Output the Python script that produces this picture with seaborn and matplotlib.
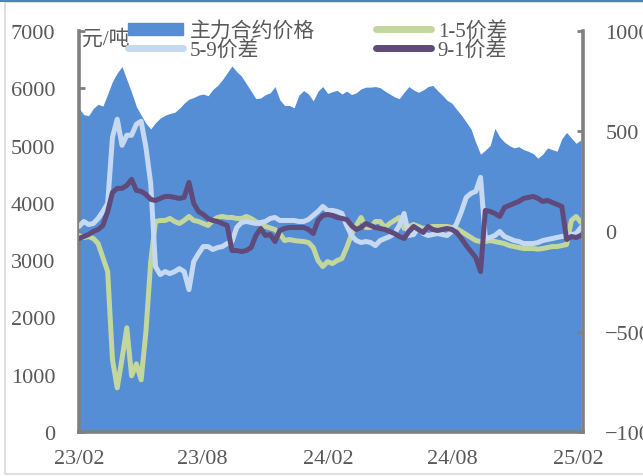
import numpy as np
import pandas as pd
import matplotlib
matplotlib.use("Agg")
import matplotlib.pyplot as plt
import matplotlib.dates as mdates
from matplotlib.patches import Rectangle, Patch
from matplotlib.lines import Line2D
import seaborn as sns

# weekly readings, 2023-02 .. 2025-02
DATES = pd.date_range("2023-02-01", periods=106, freq="7D")

PRICE = [5650, 5540, 5520, 5650, 5720, 5690, 5900, 6120, 6270, 6380,
         6150, 5930, 5680, 5530, 5390, 5290, 5400, 5480, 5530, 5560,
         5580, 5650, 5740, 5810, 5840, 5880, 5900, 5870, 5980, 6050,
         6150, 6270, 6390, 6290, 6210, 6080, 5950, 5820, 5830, 5890,
         5920, 6030, 5800, 5700, 5700, 5660, 5880, 5960, 5900, 5780,
         5950, 6030, 5910, 5940, 5965, 5900, 5950, 5890, 5920, 5990,
         6020, 6020, 6030, 6010, 5950, 5900, 5850, 5820, 5930, 6030,
         5970, 5930, 5970, 6030, 6050, 5960, 5880, 5790, 5740, 5630,
         5530, 5410, 5290, 5050, 4850, 4920, 5000, 5300, 5150, 5060,
         5000, 4960, 4980, 4930, 4900, 4860, 4780, 4850, 4960, 4930,
         4900, 5120, 5230, 5130, 5040, 5100]

SPREAD_1_5 = [-20, -30, -25, -35, -60, -130, -200, -640, -780, -635,
              -480, -720, -660, -740, -500, -150, 50, 55, 55, 65,
              50, 40, 55, 75, 55, 50, 40, 30, 55, 70,
              75, 70, 70, 65, 65, 75, 65, 50, 35, 25,
              18, 10, -10, -45, -40, -45, -48, -50, -55, -80,
              -145, -175, -150, -160, -145, -135, -80, -15, 30, 70,
              20, 20, 50, 50, 20, 40, 55, 70, 15, 25,
              35, 25, 15, 20, 25, 25, 25, 25, 20, 15,
              0, -15, -30, -45, -50, -50, -45, -50, -55, -60,
              -70, -75, -80, -85, -85, -85, -88, -85, -80, -75,
              -75, -70, -65, 55, 75, 45]

SPREAD_5_9 = [25, 50, 35, 40, 65, 100, 140, 470, 560, 430,
              480, 480, 535, 550, 420, 240, -175, -215, -200, -210,
              -200, -185, -200, -290, -150, -110, -75, -75, -90, -80,
              -75, -60, -50, 20, 45, 50, 45, 40, 45, 50,
              65, 70, 55, 55, 55, 55, 50, 50, 60, 80,
              100, 125, 105, 105, 100, 90, 30, -20, -45, -55,
              -50, -55, -70, -45, -35, -25, -10, 30, 90, -20,
              -15, 20, -10, -20, -15, -10, -15, -20, 0, 40,
              100, 170, 190, 200, 270, -35, -30, -20, 0, -25,
              -35, -45, -50, -60, -60, -60, -55, -45, -40, -35,
              -30, -25, -20, -15, -10, 20]

SPREAD_9_1 = [-35, -25, -15, 0, 10, 30, 100, 195, 215, 215,
              230, 260, 205, 200, 185, 160, 155, 165, 175, 175,
              170, 165, 170, 245, 140, 100, 85, 65, 55, 50,
              40, 30, -95, -95, -100, -95, -80, -20, 15, -20,
              -15, -50, 5, 15, 20, 20, 20, 20, 10, -10,
              55, 80, 85, 80, 70, 65, 60, 30, 10, 20,
              40, 30, 20, 15, 10, 0, -10, -25, -35, 0,
              25, 10, -5, 25, 10, 5, 10, 15, 10, -5,
              -35, -70, -100, -130, -200, 105, 100, 90, 75, 120,
              130, 140, 150, 165, 170, 175, 165, 150, 155, 145,
              135, 125, -40, -25, -30, -20]

TICK_DATES = ["2023-02-01", "2023-08-01", "2024-02-01", "2024-08-01", "2025-02-01"]

AREA_C = "#558ED5"
GREEN = "#C3D69B"
LBLUE = "#C6D9F1"
PURPLE = "#604A7B"
GREY = "#808080"
TXT = "#595959"

sns.set_theme(style="white")
plt.rcParams["font.family"] = ["Liberation Serif", "Noto Sans CJK SC"]

df = pd.DataFrame({"date": DATES, "price": PRICE, "1-5价差": SPREAD_1_5,
                   "5-9价差": SPREAD_5_9, "9-1价差": SPREAD_9_1})

fig = plt.figure(figsize=(6.43, 4.77), dpi=100)
ax = fig.add_axes([79 / 643, 1 - 433 / 477, 504 / 643, 401 / 477])
ax.fill_between(df["date"], df["price"], 0, color=AREA_C, lw=0)
ax.set_ylim(0, 7000)
ax.set_xlim(pd.Timestamp("2023-02-01"), pd.Timestamp("2025-02-08"))
ax.set_yticks(range(0, 7001, 1000))

ax2 = ax.twinx()
for col, c in [("1-5价差", GREEN), ("5-9价差", LBLUE), ("9-1价差", PURPLE)]:
    sns.lineplot(data=df, x="date", y=col, ax=ax2, color=c, lw=3.6,
                 legend=False)
ax2.set_ylim(-1000, 1000)
ax2.set_yticks([-1000, -500, 0, 500, 1000])
ax2.set_ylabel("")
ax.set_ylabel("")
ax.set_xlabel("")
ax2.set_xlabel("")

ax.set_xticks(pd.to_datetime(TICK_DATES))
ax.xaxis.set_major_formatter(mdates.DateFormatter("%y/%m"))

for a in (ax, ax2):
    a.grid(False)
    a.set_facecolor("none")
    for s in a.spines.values():
        s.set_visible(False)
ax.spines["left"].set_visible(True)
ax.spines["bottom"].set_visible(True)
ax2.spines["right"].set_visible(True)
for s in (ax.spines["left"], ax.spines["bottom"], ax2.spines["right"]):
    s.set_color(GREY)
    s.set_linewidth(2.6)

ax.tick_params(axis="y", direction="in", length=4, width=2, color=GREY,
               labelsize=16, labelcolor=TXT, pad=17, left=True)
ax.tick_params(axis="x", direction="in", length=4, width=2, color=GREY,
               labelsize=16, labelcolor=TXT, pad=12, bottom=True)
ax2.tick_params(axis="y", direction="in", length=4, width=2, color=GREY,
                labelsize=16, labelcolor=TXT, pad=16, right=True)

fig.text(82 / 643, 1 - 40 / 477, "元/吨", fontsize=15, color=TXT,
         va="center", ha="left")

handles = [Patch(color=AREA_C, label="主力合约价格"),
           Line2D([], [], color=LBLUE, lw=5, label="5-9价差"),
           Line2D([], [], color=GREEN, lw=5, label="1-5价差"),
           Line2D([], [], color=PURPLE, lw=5, label="9-1价差")]
leg = fig.legend(handles=handles, ncol=2, loc="upper left",
                 bbox_to_anchor=(128 / 643, 1 - 22 / 477), frameon=False,
                 fontsize=15, handlelength=2.65, handleheight=0.5,
                 handletextpad=0.33, columnspacing=2.9, labelspacing=-0.05,
                 borderpad=0, borderaxespad=0)
for t in leg.get_texts():
    t.set_color(TXT)

# outer frame + top accent line
fig.patches.append(Rectangle((5 / 643, 2 / 477), 1.0, 1 - 5 / 477,
                             transform=fig.transFigure, fill=False,
                             edgecolor="#D9D9D9", lw=1.2))
fig.lines.append(Line2D([0, 1], [1 - 1 / 477] * 2, transform=fig.transFigure,
                        color="#4F81BD", lw=2.2))

fig.savefig("out.png", dpi=100)
